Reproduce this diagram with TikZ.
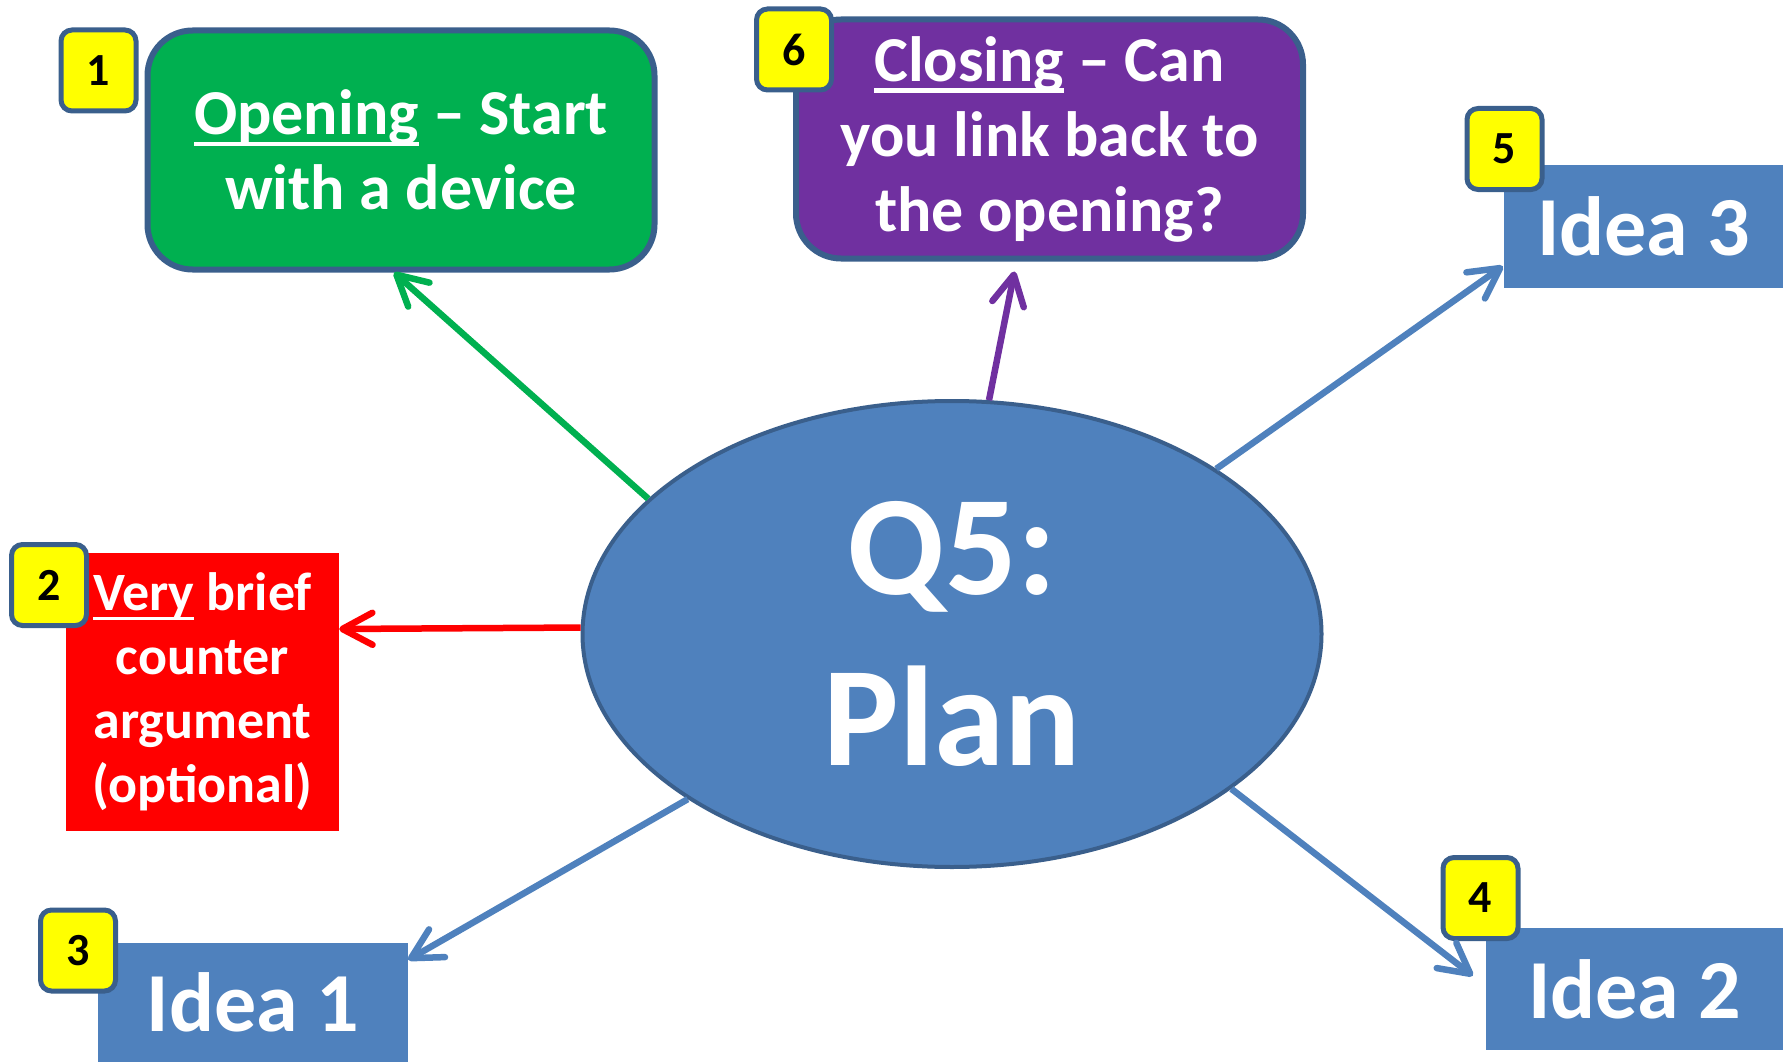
\documentclass[tikz,border=0pt]{standalone}
\usepackage{fontspec}
\setmainfont{Carlito}
\usetikzlibrary{arrows.meta,
                shapes.geometric}
\definecolor{ppgreen}{HTML}{00B050}
\definecolor{pppurple}{HTML}{7030A0}
\definecolor{ppred}{HTML}{FF0000}
\definecolor{ppblue}{HTML}{4F81BD}
\definecolor{ppedge}{HTML}{3A5F8C}
\definecolor{ppyellow}{HTML}{FFFF00}
% thick underline scaled with the font
\newsavebox{\ulbox}
\newcommand{\ul}[1]{\sbox{\ulbox}{#1}%
  \rlap{\rule[-0.18em]{\wd\ulbox}{0.065em}}\usebox{\ulbox}}
\tikzset{
        base/.style={text=white, align=center, inner sep=0pt},
        roundbox/.style={base, draw=ppedge, line width=6pt,
                         rounded corners=45pt, minimum width=507pt,
                         minimum height=239pt,
                         font=\bfseries\fontsize{64}{75}\selectfont},
        idea/.style={base, fill=ppblue,
                     font=\bfseries\fontsize{84}{100}\selectfont},
        badge/.style={draw=ppedge, fill=ppyellow, line width=5pt,
                      rounded corners=11pt, minimum width=75pt,
                      minimum height=81pt, inner sep=0pt,
                      font=\bfseries\fontsize{46}{50}\selectfont},
        myarrow/.style={-{Straight Barb[length=30pt, width=32pt, round]},
                        line width=6.5pt},
 }

\begin{document}
\begin{tikzpicture}[x=1pt, y=-1pt]
    \useasboundingbox (0,0) rectangle (1789,1062);

    \node[base, ellipse, draw=ppedge, fill=ppblue, line width=4pt,
          minimum width=739pt, minimum height=466pt,
          font=\bfseries\fontsize{142}{171}\selectfont] (plan)
          at (952,634) {Q5:\\Plan};

    \node[roundbox, fill=ppgreen] (opening) at (401,150)
          {\ul{Opening} -- Start\\with a device};
    \node[roundbox, fill=pppurple] (closing) at (1049.5,139)
          {\ul{Closing} -- Can\\you link back to\\the opening?};
    \node[base, fill=ppred, minimum width=273pt, minimum height=278pt,
          font=\bfseries\fontsize{54}{64}\selectfont] (counter)
          at (202.5,692)
          {\ul{Very} brief\\counter\\argument\\(optional)};
    \node[idea, minimum width=310pt, minimum height=119pt] (idea1)
          at (253,1002.5) {Idea 1};
    \node[idea, minimum width=297pt, minimum height=122pt] (idea2)
          at (1634.5,989) {Idea 2};
    \node[idea, minimum width=279pt, minimum height=123pt] (idea3)
          at (1643.5,226.5) {Idea 3};

    \node[badge] (b1) at (98.5,70.5) {1};
    \node[badge] (b2) at (49,585) {2};
    \node[badge] (b3) at (78,950.5) {3};
    \node[badge] (b4) at (1480.5,898) {4};
    \node[badge] (b5) at (1504.5,149) {5};
    \node[badge] (b6) at (794,49.5) {6};

    \draw[myarrow, ppgreen] (plan.156) -- ([xshift=-7pt]opening.south);
    \draw[myarrow, pppurple] (plan.81)
          -- ([xshift=-35pt, yshift=-10pt]closing.south);
    \draw[myarrow, ppred] (plan.179) -- ([yshift=63pt]counter.east);
    \draw[myarrow, ppblue] (plan.212) -- ([yshift=-17pt]idea1.north east);
    \draw[myarrow, ppblue] (plan.331)
          -- ([xshift=-13pt, yshift=-48pt]idea2.north west);
    \draw[myarrow, ppblue] (plan.32)
          -- ([xshift=-1pt, yshift=22pt]idea3.south west);
\end{tikzpicture}
\end{document}
